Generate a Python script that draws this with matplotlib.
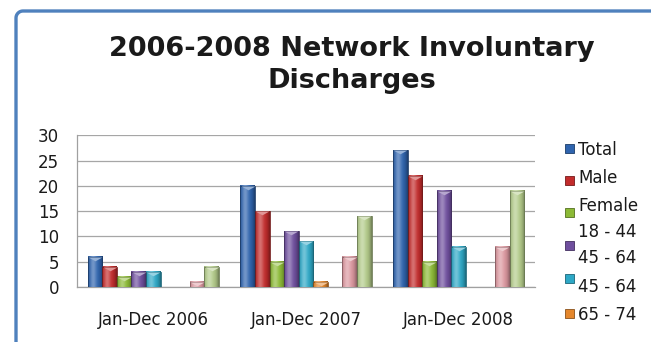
import numpy as np
import matplotlib.pyplot as plt
from matplotlib.patches import Rectangle
from matplotlib.lines import Line2D
from matplotlib.colors import to_rgb

# discharge counts per period
periods = ["Jan-Dec 2006", "Jan-Dec 2007", "Jan-Dec 2008"]
total = [6, 20, 27]
male = [4, 15, 22]
female = [2, 5, 5]
age_18_44 = [3, 11, 19]
age_45_64 = [3, 9, 8]
age_65_74 = [0, 1, 0]
series_7 = [0, 0, 0]
series_8 = [1, 6, 8]
series_9 = [4, 14, 19]

series = [total, male, female, age_18_44, age_45_64, age_65_74,
          series_7, series_8, series_9]
colors = ["#2F64AE", "#C22C2C", "#8CBA36", "#6F4F9E", "#2EA8C6",
          "#E5872C", "#8EA9D8", "#DC98A0", "#B3CB8A"]

legend_lines = ["Total", "Male", "Female", "18 - 44", "45 - 64", "45 - 64", "65 - 74"]
legend_text_y = [150, 178, 206, 232, 258, 287, 315]
legend_marker_y = [148, 180, 212, 245, 278, 313]

W, H, DPI = 651, 342, 100
fig = plt.figure(figsize=(W / DPI, H / DPI), dpi=DPI)
fig.patch.set_facecolor("white")
plt.rcParams["font.family"] = "DejaVu Sans"

# blue frame: left and top edges with a rounded corner
r = 7
top = 1 - 11 / H
left = 16 / W
ang = np.linspace(np.pi, np.pi / 2, 12)
cx = left + r / W + (r / W) * np.cos(ang)
cy = top - r / H + (r / H) * np.sin(ang)
fx = np.concatenate([[left], cx, [1.0]])
fy = np.concatenate([[0.0], cy, [top]])
fig.add_artist(Line2D(fx, fy, transform=fig.transFigure, color="#4F81BD",
                      linewidth=2.4, solid_capstyle="butt"))

ax = fig.add_axes([77 / W, (H - 287) / H, 458 / W, (287 - 135.3) / H])

n = len(series)
group = 0.86
bw = group / n
x = np.arange(len(periods))


def shade(c, t):
    # horizontal bevel: light stripe left of centre, darker edges
    c = np.array(to_rgb(c))
    light = 0.32 * np.exp(-((t - 0.35) / 0.22) ** 2)
    dark = 0.38 * (np.abs(t - 0.42) / 0.58) ** 3
    out = c * (1 - light)[:, None] + light[:, None]
    out = out * (1 - dark)[:, None]
    return np.clip(out, 0, 1)


t = np.linspace(0, 1, 40)
tri = [(-1, 0), (1, 0), (0, -0.55)]
ms = bw * 458 / 3 * 72 / DPI

for i, (vals, col) in enumerate(zip(series, colors)):
    pos = x - group / 2 + bw * (i + 0.5)
    bars = ax.bar(pos, vals, width=bw, color=col, edgecolor="none", zorder=3)
    grad = shade(col, t)[None, :, :]
    hi = np.clip(np.array(to_rgb(col)) * 0.5 + 0.5, 0, 1)
    for b, v in zip(bars, vals):
        if v <= 0:
            continue
        x0 = b.get_x()
        ax.imshow(grad, extent=(x0, x0 + bw, 0, v), aspect="auto",
                  interpolation="bilinear", zorder=4)
        ax.add_patch(Rectangle((x0, 0), bw, v, facecolor="none",
                               edgecolor=np.array(to_rgb(col)) * 0.6, linewidth=0.6, zorder=5))
        ax.plot(x0 + bw / 2, v, marker=tri, ms=ms * 0.95, color=hi,
                markeredgewidth=0, zorder=6)

ax.set_xlim(-0.5, len(periods) - 0.5)
ax.set_ylim(0, 30)
ax.set_yticks(range(0, 31, 5))
ax.set_xticks(x)
ax.set_xticklabels(periods)
ax.yaxis.grid(True, color="#A6A6A6", linewidth=0.9, zorder=0)
ax.set_axisbelow(True)
for s in ["top", "right"]:
    ax.spines[s].set_visible(False)
for s in ["left", "bottom"]:
    ax.spines[s].set_color("#A0A0A0")
    ax.spines[s].set_linewidth(0.9)
ax.tick_params(axis="y", length=0, pad=13, labelsize=12, labelcolor="#1A1A1A")
ax.tick_params(axis="x", length=0, pad=17, labelsize=12, labelcolor="#1A1A1A")

fig.text(352 / W, 1 - 65 / H, "2006-2008 Network Involuntary\nDischarges",
         ha="center", va="center", fontsize=19.5, fontweight="bold",
         color="#1A1A1A", linespacing=1.3)

# legend drawn row by row
for label, y in zip(legend_lines, legend_text_y):
    fig.text(578 / W, 1 - y / H, label, ha="left", va="center",
             fontsize=12, color="#1A1A1A")
for col, y in zip(colors, legend_marker_y):
    fig.add_artist(Rectangle((565, H - y - 4.5), 9, 9, transform=None,
                             facecolor=col, edgecolor=np.array(to_rgb(col)) * 0.6,
                             linewidth=0.6))

fig.savefig("out.png", dpi=DPI)
